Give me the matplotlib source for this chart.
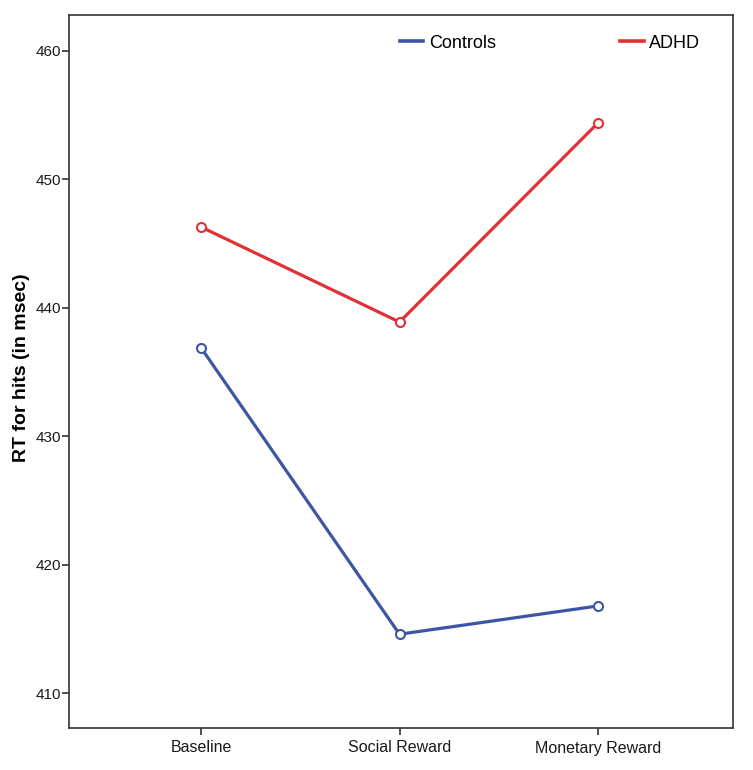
import numpy as np
import matplotlib.pyplot as plt
from matplotlib.lines import Line2D

plt.rcParams['font.family'] = ['Liberation Sans', 'DejaVu Sans']

# condiciones y medias de RT
condiciones = ['Baseline', 'Social Reward', 'Monetary Reward']
controles = [436.9, 414.6, 416.8]
adhd = [446.3, 438.9, 454.4]
ticks_y = [410, 420, 430, 440, 450, 460]

azul = '#3d55a5'
rojo = '#e03236'

fig = plt.figure(figsize=(7.53, 7.70), dpi=100)
ax = fig.add_axes([69 / 753, 1 - 728 / 770, (733 - 69) / 753, (728 - 15) / 770])

x = np.arange(len(condiciones))
ax.plot(x, controles, color=azul, lw=2.3, marker='o', ms=6.5,
        mfc='white', mec=azul, mew=1.5)
ax.plot(x, adhd, color=rojo, lw=2.3, marker='o', ms=6.5,
        mfc='white', mec=rojo, mew=1.5)

ax.set_xlim(-0.665, 2.68)
ax.set_ylim(407.3, 462.8)
ax.set_xticks(x)
ax.set_xticklabels(condiciones, fontsize=11.5)
ax.set_yticks(ticks_y)
ax.set_yticklabels([str(t) for t in ticks_y], fontsize=11)
ax.tick_params(direction='out', length=5, width=1.2, color='#333333',
               labelcolor='#1a1a1a')
ax.tick_params(axis='y', pad=1)
ax.tick_params(axis='x', pad=4)
for s in ax.spines.values():
    s.set_color('#333333')
    s.set_linewidth(1.2)

ax.set_ylabel('RT for hits (in msec)', fontsize=14, fontweight='bold')
ax.yaxis.set_label_coords(-0.058, 0.505)

# leyenda solo con lineas
handles = [Line2D([], [], color=azul, lw=2.6), Line2D([], [], color=rojo, lw=2.6)]
ax.legend(handles, ['Controls', 'ADHD'], ncol=2, frameon=False, fontsize=13,
          handlelength=1.3, handletextpad=0.3, columnspacing=6.9, borderpad=0,
          borderaxespad=0, loc='center left',
          bbox_to_anchor=(400 / 753, 1 - 43 / 770), bbox_transform=fig.transFigure)

plt.savefig('out.png', dpi=100)
